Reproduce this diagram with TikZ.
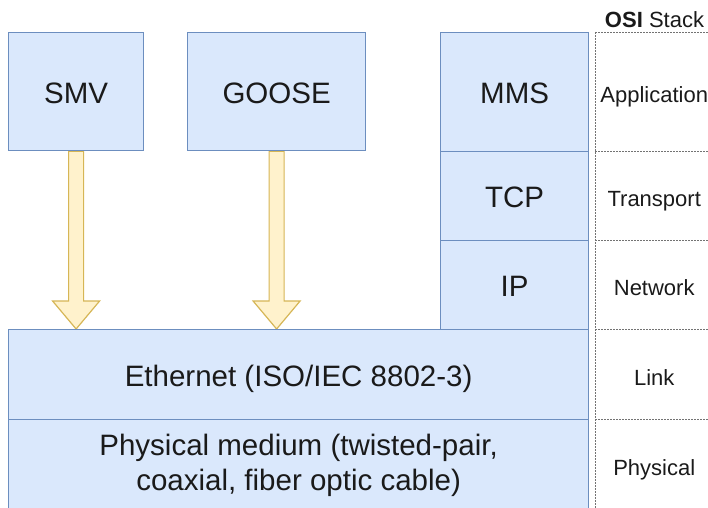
\documentclass[tikz,border=0pt]{standalone}
\usepackage{fontspec}
\setmainfont{Liberation Sans}
\usetikzlibrary{calc,backgrounds}
\definecolor{boxfill}{HTML}{DAE8FC}
\definecolor{boxline}{HTML}{6C8EBF}
\definecolor{arrfill}{HTML}{FFF2CC}
\definecolor{arrline}{HTML}{D6B656}
\definecolor{txt}{HTML}{1A1A1A}
\begin{document}
\begin{tikzpicture}[x=1pt,y=-1pt,
  layerbox/.style={draw=boxline,fill=boxfill,line width=1.2pt,inner sep=0pt,anchor=north west,
    font=\fontsize{29.5}{35}\selectfont,text=txt,align=center},
  oneline/.style={text height=26.7pt,text depth=3.7pt},
  osilabel/.style={inner sep=0pt,anchor=north west,minimum width=118,
    font=\fontsize{22}{26}\selectfont,text=txt,text height=22.4pt,text depth=0pt},
  osiline/.style={draw=black!55,line width=0.7pt,dash pattern=on 2pt off 1pt},
  fatarrow/.style={draw=arrline,fill=arrfill,line width=1.2pt,line join=miter}]
\useasboundingbox (0,0) rectangle (708,507);
\clip (0,0) rectangle (708,507);

% protocol boxes
\node[layerbox,oneline,minimum width=135,minimum height=118] (smv) at (8,32) {SMV};
\node[layerbox,oneline,minimum width=178,minimum height=118] (goose) at (187,32) {GOOSE};
\node[layerbox,oneline,minimum width=148,minimum height=119] (mms) at (440,32) {MMS};
\node[layerbox,oneline,minimum width=148,minimum height=89] (tcp) at (440,151) {TCP};
\node[layerbox,oneline,minimum width=148,minimum height=89] (ip) at (440,240) {IP};
\node[layerbox,oneline,minimum width=580,minimum height=90] (eth) at (8,329) {Ethernet (ISO/IEC 8802-3)};
\node[layerbox,minimum width=580,minimum height=90,text height=58pt,text depth=6pt] (phy) at (8,419) {Physical medium (twisted-pair,\\coaxial, fiber optic cable)};

% OSI stack column
\node[font=\fontsize{22}{26}\selectfont,text=txt,anchor=base] (title) at (654.5,27) {\textbf{OSI} Stack};
\node[osilabel,minimum height=119] (app) at (595,32) {Application};
\node[osilabel,minimum height=89] (trans) at (595,151) {Transport};
\node[osilabel,minimum height=89] (net) at (595,240) {Network};
\node[osilabel,minimum height=90] (link) at (595,329) {Link};
\node[osilabel,minimum height=90] (phys) at (595,419) {Physical};

\draw[osiline] (app.north west) -- (phys.south west);
\foreach \n in {app,trans,net,link,phys}{
  \draw[osiline] (\n.north west) -- (\n.north east);
}

% fat arrows
\begin{scope}[on background layer]
\foreach \src in {smv,goose}{
  \draw[fatarrow] ($(\src.south)+(-7.5,0)$) -- ($(\src.south|-eth.north)+(-7.5,-28)$)
    -- ++(-16,0) -- (\src.south|-eth.north) -- ++(23.5,-28) -- ++(-16,0)
    -- ($(\src.south)+(7.5,0)$) -- cycle;
}
\end{scope}
\end{tikzpicture}
\end{document}
